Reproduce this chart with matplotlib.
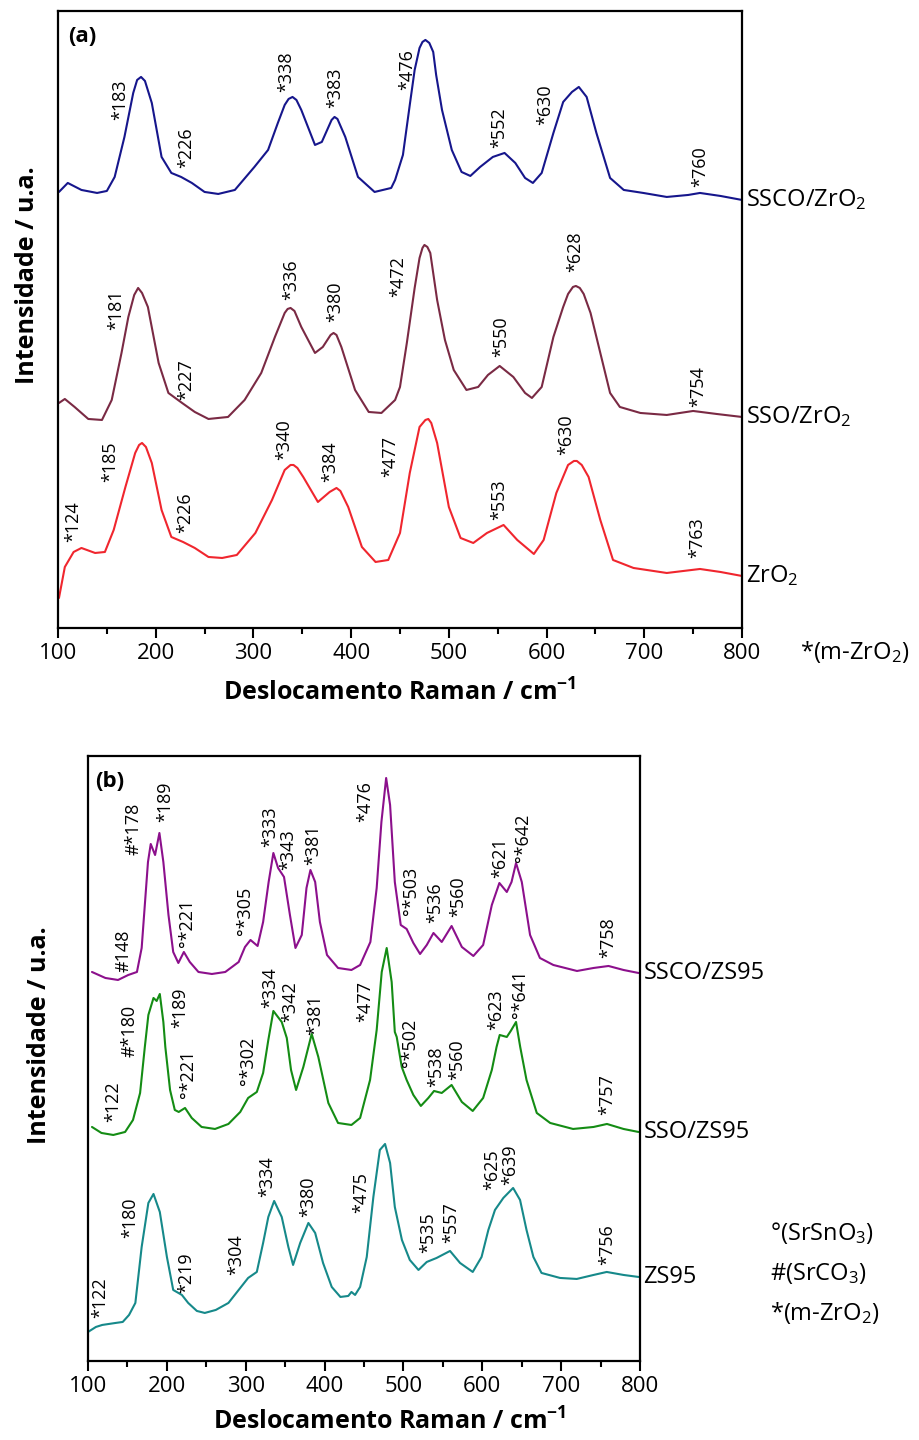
import matplotlib
matplotlib.use('Agg')
import matplotlib.pyplot as plt
from matplotlib.ticker import MultipleLocator

plt.rcParams['font.family'] = ['Open Sans', 'DejaVu Sans']
plt.rcParams['mathtext.default'] = 'regular'

# ---- painel (a): espectros (u.a.) ----
ssco_zr_x = [101, 110, 124, 140, 150, 158, 168, 177, 181, 185, 189, 196, 206, 216, 226, 237, 250, 264, 281, 301,
             315, 325, 332, 336, 340, 344, 349, 363, 370, 380, 383, 386, 394, 407, 424, 441, 445, 453, 460, 465,
             470, 473, 476, 480, 484, 487, 493, 503, 513, 522, 532, 545, 557, 568, 578, 586, 595, 607, 617, 626,
             633, 641, 651, 665, 679, 699, 723, 745, 757, 778, 800]
ssco_zr_y = [436, 445, 438, 435, 437, 451, 491, 535, 548, 551, 547, 525, 471, 455, 451, 445, 436, 434, 438, 461,
             478, 505, 523, 529, 531, 528, 518, 483, 486, 508, 511, 509, 491, 451, 436, 440, 448, 473, 523, 558,
             580, 586, 588, 585, 576, 553, 518, 478, 456, 452, 461, 471, 475, 465, 450, 445, 455, 495, 526, 536,
             541, 531, 495, 450, 438, 435, 431, 433, 435, 432, 428]

sso_zr_x = [101, 107, 117, 131, 145, 155, 165, 172, 178, 182, 186, 192, 203, 213, 227, 240, 254, 274, 291, 308,
            322, 332, 335, 338, 342, 349, 363, 371, 379, 382, 385, 390, 404, 418, 431, 445, 450, 457, 465, 470,
            473, 475, 478, 481, 488, 496, 505, 518, 530, 540, 552, 566, 578, 585, 595, 607, 617, 622, 627, 630,
            634, 638, 645, 651, 665, 675, 696, 723, 750, 774, 800]
sso_zr_y = [225, 229, 221, 209, 208, 228, 275, 311, 333, 340, 335, 321, 265, 235, 225, 216, 209, 211, 228, 255,
            291, 315, 319, 320, 317, 301, 275, 281, 293, 295, 293, 281, 238, 216, 215, 228, 241, 285, 340, 370,
            380, 383, 381, 375, 328, 288, 258, 238, 241, 253, 262, 251, 235, 230, 241, 291, 321, 334, 341, 342,
            340, 334, 315, 291, 235, 221, 215, 213, 217, 214, 211]

zro2_x = [101, 107, 116, 124, 138, 148, 157, 169, 179, 183, 186, 190, 196, 206, 216, 228, 240, 254, 268, 283,
          302, 319, 332, 338, 341, 345, 351, 366, 378, 385, 389, 397, 411, 425, 438, 450, 460, 470, 476, 479,
          482, 488, 500, 512, 525, 539, 556, 570, 587, 597, 610, 622, 628, 631, 636, 643, 655, 668, 689, 723,
          757, 778, 800]
zro2_y = [30, 61, 76, 80, 75, 76, 98, 141, 175, 183, 185, 181, 165, 118, 91, 86, 80, 71, 70, 73,
          95, 128, 158, 163, 163, 160, 151, 126, 136, 140, 137, 121, 81, 66, 68, 95, 155, 201, 208, 209,
          205, 185, 121, 90, 85, 95, 103, 88, 74, 88, 135, 163, 167, 167, 163, 151, 108, 68, 60, 55,
          59, 56, 52]

# ---- painel (b) ----
ssco_zs_x = [105, 122, 138, 151, 162, 168, 172, 176, 179.5, 185, 190.5, 195.5, 202, 208, 214.5, 221.5, 229, 240,
             257, 274, 291, 299, 306, 315, 322, 329, 335, 341, 348.5, 356, 363, 371, 377, 382, 388, 394, 403,
             417, 434, 445, 458, 466, 472, 478, 483, 489, 496.5, 504, 512.5, 521, 529.5, 538, 548.5, 561, 574,
             588.6, 601, 612, 621.6, 631, 637, 642.7, 650, 660.5, 673, 690, 720, 741, 760, 779, 798]
ssco_zs_y = [389, 383, 381, 386, 389, 413, 456, 499, 517, 506, 528, 499, 446, 409, 398, 409, 399, 389,
             387, 389, 399, 414, 421, 415, 439, 479, 508, 493, 484, 446, 413, 426, 473, 491, 479, 439, 406,
             393, 391, 396, 419, 473, 539, 583, 556, 479, 436, 432, 418, 407, 416, 428, 419, 435, 414,
             405, 416, 456, 478, 469, 479, 498, 479, 426, 403, 396, 390, 393, 395, 391, 388]

sso_zs_x = [105, 117, 132, 147, 157, 166, 172, 176.5, 183, 187, 191, 195.5, 198, 204, 210, 215, 223, 231.5, 244,
            261, 278, 293, 303, 314, 322, 328.6, 335, 345.6, 352, 357.4, 363.8, 373, 383.6, 392, 404.7, 417, 434,
            445, 457.6, 466, 472.4, 478.7, 485, 489, 491.4, 497.8, 504, 512.5, 522, 531.5, 538.7, 548.5, 561,
            574, 587.8, 601, 612, 618, 622, 631, 636, 642.7, 648, 656, 669, 686, 715, 741, 758, 779, 798]
sso_zs_y = [234, 228, 226, 229, 241, 268, 314, 346, 363, 360, 367, 339, 314, 271, 251, 249, 253, 243, 234,
            232, 237, 249, 263, 269, 288, 321, 350, 339, 323, 291, 271, 294, 327, 304, 258, 238, 236,
            243, 281, 331, 389, 413, 379, 329, 324, 294, 281, 266, 255, 263, 270, 268, 276,
            259, 250, 263, 291, 314, 326, 324, 330, 339, 314, 281, 248, 238, 232, 234, 237, 232, 229]

zs95_x = [100, 110, 118, 135, 144, 152, 160, 168, 176.5, 183, 191, 200, 208, 219, 227, 238, 248, 262, 278, 291,
          303, 314, 322, 328.6, 336, 345.6, 354, 360, 369, 379.4, 388, 398, 409, 420, 430, 434, 438.6, 445,
          453.4, 461.8, 470, 476.6, 483, 489, 498, 508, 519, 529.5, 542, 559, 571.7, 587.8, 599, 607.6, 616,
          626.6, 639, 647.8, 656, 664.7, 675, 698.5, 719.7, 741, 757.7, 779, 798]
zs95_y = [29, 34, 36, 38, 39, 46, 58, 114, 158, 167, 149, 104, 71, 66, 58, 50, 48, 51, 58, 71,
          83, 89, 118, 144, 160, 144, 114, 96, 118, 138, 128, 98, 74, 64, 65, 69, 66, 74,
          104, 164, 211, 217, 198, 154, 121, 101, 91, 99, 103, 110, 98, 89, 104, 131, 151,
          163, 173, 161, 131, 104, 88, 83, 82, 86, 89, 86, 84]

# ---- rótulos dos picos ----
peaks_a_text = ['*183', '*226', '*338', '*383', '*476', '*552', '*630', '*760',
                '*181', '*227', '*336', '*380', '*472', '*550', '*628', '*754',
                '*124', '*185', '*226', '*340', '*384', '*477', '*553', '*630', '*763']
peaks_a_x = [163.5, 231.7, 334, 383.5, 457, 552, 598.5, 757,
             160, 231.7, 339, 383.5, 448, 554, 629, 755,
             115.7, 153, 230, 332, 378.4, 440, 552, 620.6, 753.7]
peaks_a_y = [508, 460, 536, 520, 538, 480, 503, 441,
             298, 228, 328, 306, 331, 271, 356, 221,
             86, 146, 95, 168, 146, 151, 108, 173, 70]

peaks_b_text = ['#148', '#*178', '*189', '°*221', '°*305', '*333', '*343', '*381', '*476', '°*503', '*536',
                '*560', '*621', '°*642', '*758',
                '*122', '#*180', '*189', '°*221', '°*302', '*334', '*342', '*381', '*477', '°*502', '*538',
                '*560', '*623', '°*641', '*757',
                '*122', '*180', '*219', '*304', '*334', '*380', '*475', '*535', '*557', '*625', '*639', '*756']
peaks_b_x = [144.8, 157.5, 197.6, 225, 299, 330.8, 354, 385.7, 451, 510, 540,
             569.6, 622.5, 652, 760,
             132, 153, 216.7, 227, 303, 330.8, 356, 388, 451, 508, 541,
             567.5, 618, 648, 757.7,
             115, 153, 225, 288.5, 326.6, 379.4, 447, 531.6, 561, 612, 635, 757.7]
peaks_b_y = [389, 506, 539, 414, 426, 514, 491, 496, 539, 446, 438,
             444, 483, 499, 403,
             239, 304, 333, 263, 276, 353, 339, 326, 339, 294, 274,
             281, 331, 343, 246,
             43, 123, 68, 86, 164, 144, 148, 108, 118, 171, 176, 96]

names_a = ['SSCO/ZrO$_2$', 'SSO/ZrO$_2$', 'ZrO$_2$']
names_b = ['SSCO/ZS95', 'SSO/ZS95', 'ZS95']
colors_a = ['#16168c', '#7a2a44', '#f0262e']
colors_b = ['#8c108c', '#148c14', '#16898a']

fig = plt.figure(figsize=(9.19, 14.4), dpi=100)
ax_a = fig.add_axes([0.0631, 0.5639, 0.7443, 0.4285])
ax_b = fig.add_axes([0.0958, 0.0549, 0.6007, 0.4201])

series_a = [(ssco_zr_x, ssco_zr_y), (sso_zr_x, sso_zr_y), (zro2_x, zro2_y)]
series_b = [(ssco_zs_x, ssco_zs_y), (sso_zs_x, sso_zs_y), (zs95_x, zs95_y)]

for ax, series, colors, names, ymax in [(ax_a, series_a, colors_a, names_a, 617),
                                        (ax_b, series_b, colors_b, names_b, 605)]:
    for (x, y), c, n in zip(series, colors, names):
        ax.plot(x, y, color=c, lw=1.5, solid_joinstyle='round', solid_capstyle='round')
        ax.text(1.006, y[-1], n, transform=ax.get_yaxis_transform(), ha='left', va='center',
                fontsize=17)
    ax.set_xlim(100, 800)
    ax.set_ylim(0, ymax)
    ax.set_yticks([])
    ax.xaxis.set_major_locator(MultipleLocator(100))
    ax.xaxis.set_minor_locator(MultipleLocator(50))
    ax.tick_params(axis='x', which='major', direction='out', length=7, width=1.5, labelsize=16, pad=4)
    ax.tick_params(axis='x', which='minor', direction='out', length=4, width=1.5)
    for s in ax.spines.values():
        s.set_linewidth(1.6)

for t, x, y in zip(peaks_a_text, peaks_a_x, peaks_a_y):
    ax_a.text(x, y, t, rotation=90, ha='center', va='bottom', fontsize=13)
for t, x, y in zip(peaks_b_text, peaks_b_x, peaks_b_y):
    ax_b.text(x, y, t, rotation=90, ha='center', va='bottom', fontsize=13)

ax_a.text(0.015, 0.975, '(a)', transform=ax_a.transAxes, ha='left', va='top', fontsize=16, fontweight='bold')
ax_b.text(0.012, 0.975, '(b)', transform=ax_b.transAxes, ha='left', va='top', fontsize=16, fontweight='bold')

# eixos e legendas
fig.text(28 / 919, 1 - 275 / 1440, 'Intensidade / u.a.', rotation=90, ha='center', va='center',
         fontsize=18, fontweight='bold')
fig.text(40 / 919, 1 - 1035 / 1440, 'Intensidade / u.a.', rotation=90, ha='center', va='center',
         fontsize=18, fontweight='bold')
fig.text(400 / 919, 1 - 693 / 1440, 'Deslocamento Raman / cm$^{-1}$', ha='center', va='center',
         fontsize=18, fontweight='bold')
fig.text(390 / 919, 1 - 1422 / 1440, 'Deslocamento Raman / cm$^{-1}$', ha='center', va='center',
         fontsize=18, fontweight='bold')
fig.text(800 / 919, 1 - 652 / 1440, '*(m-ZrO$_2$)', ha='left', va='center', fontsize=17)
fig.text(770 / 919, 1 - 1233 / 1440, '°(SrSnO$_3$)', ha='left', va='center', fontsize=17)
fig.text(770 / 919, 1 - 1274 / 1440, '#(SrCO$_3$)', ha='left', va='center', fontsize=17)
fig.text(770 / 919, 1 - 1313 / 1440, '*(m-ZrO$_2$)', ha='left', va='center', fontsize=17)

fig.savefig('out.png', dpi=100)
